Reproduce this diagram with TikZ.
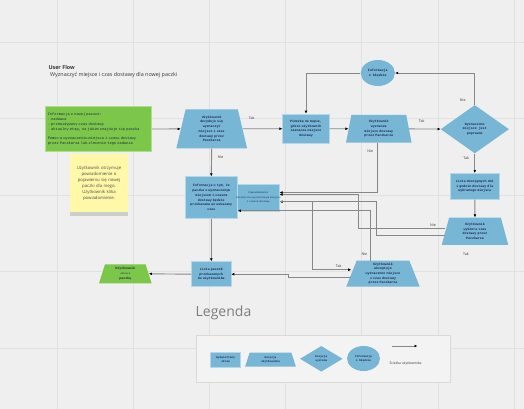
\documentclass[tikz,border=0pt]{standalone}
\usepackage{fontspec}
\setmainfont{Open Sans}
\setsansfont{Open Sans}
\setmonofont{Liberation Mono}
\usepackage{tikz}
\usetikzlibrary{shapes.geometric, arrows.meta, positioning, calc, shadows}
\definecolor{ufbg}{RGB}{239,239,239}
\definecolor{ufgrid}{RGB}{225,225,225}
\definecolor{ufblue}{RGB}{120,182,214}
\definecolor{ufgreen}{RGB}{124,199,74}
\definecolor{ufyellow}{RGB}{255,248,168}
\definecolor{ufpanel}{RGB}{243,243,243}
\definecolor{ufline}{RGB}{135,135,135}
\definecolor{uftext}{RGB}{28,38,76}
\definecolor{ufhead}{RGB}{55,55,55}
\definecolor{ufgrey}{RGB}{125,125,125}
\newcommand{\boxfont}{\fontsize{3.3}{4.7}\selectfont\ttfamily\bfseries}
\newcommand{\labfont}{\fontsize{3.6}{4.4}\selectfont\sffamily}
\tikzset{
  screen/.style   = {rectangle, draw=ufblue!55!white, line width=0.6pt, fill=ufblue,
                     text=uftext, align=center, font=\boxfont, inner sep=1pt},
  userdec/.style  = {trapezium, trapezium stretches=true, fill=ufblue, text=uftext,
                     align=center, font=\boxfont, inner sep=1pt},
  tslope/.style   = {trapezium left angle=#1, trapezium right angle=#1},
  sysdec/.style   = {diamond, fill=ufblue, text=uftext, align=center,
                     font=\boxfont, inner sep=0pt},
  errinfo/.style  = {ellipse, fill=ufblue, text=uftext, align=center,
                     font=\boxfont, inner sep=0pt},
  greenbox/.style = {rectangle, draw=ufgreen!60!white, line width=0.6pt, fill=ufgreen,
                     text=uftext, inner sep=2pt},
  sticky/.style   = {rectangle, fill=ufyellow, text=black!70, align=center,
                     font=\fontsize{4.3}{6}\selectfont\sffamily, inner sep=2pt,
                     drop shadow={shadow xshift=0pt, shadow yshift=-4pt, opacity=0.3}},
  legendbox/.style= {rectangle, fill=ufpanel, draw=black!15, line width=0.6pt,
                     drop shadow={shadow xshift=0.8pt, shadow yshift=-1.5pt, opacity=0.25}},
  flow/.style     = {-{Latex[length=3pt, width=2.8pt, color=black]}, line width=0.9pt, draw=ufline},
  flowlab/.style  = {font=\labfont, text=ufhead, inner sep=0.8pt},
}

\begin{document}
\begin{tikzpicture}[x=1pt, y=-1pt]

% ---------- Canvas ----------
\fill[ufbg] (0,0) rectangle (524,409);
\useasboundingbox (0,0) rectangle (524,409);
\foreach \gx in {57,133.2,209.4,285.6,361.8,438,514.2}
  \draw[ufgrid, line width=0.8pt] (\gx,0) -- (\gx,409);
\foreach \gy in {42,118.5,195,271.5,348}
  \draw[ufgrid, line width=0.8pt] (0,\gy) -- (524,\gy);

% ---------- Heading ----------
\node[anchor=west, inner sep=0pt, text=ufhead,
      font=\fontsize{5.4}{6}\selectfont\sffamily\bfseries] (title) at (48.3,67.7) {User Flow};
\node[anchor=west, inner sep=0pt, text=ufhead,
      font=\fontsize{5.4}{6}\selectfont\sffamily] (subtitle) at (50,75.2)
      {Wyznaczyć miejsce i czas dostawy dla nowej paczki};

% ---------- Entry ----------
\node[greenbox, minimum width=106.7pt, minimum height=45pt, text width=101pt, align=left,
      font=\fontsize{3.65}{5}\selectfont\ttfamily] (info) at (98.3,129.2)
      {Informacja o nowej paczce:\\
       - nadawca\\
       - przewidywany czas dostawy\\
       - aktualny etap, na jakim znajduje się paczka\\[4.4pt]
       Pomoc w wyznaczeniu miejsca i czasu dostawy\\
       przez Paczkarza lub zlecenie tego zadania};
\node[sticky, minimum width=58pt, minimum height=58pt, text width=52pt] (note) at (99,183)
      {Użytkownik otrzymuje\\powiadomienie o\\pojawieniu się nowej\\paczki dla niego.\\Użytkownik klika\\powiadomienie.};

% ---------- Top row ----------
\node[userdec, tslope=75, minimum width=71pt, minimum height=39pt, text width=40pt] (decide) at (211.7,128.8)
      {Użytkownik\\decyduje się\\wyznaczyć\\miejsce i czas\\dostawy przez\\Paczkarza};
\node[screen, minimum width=46.6pt, minimum height=29.3pt, text width=42pt] (pin) at (306,128.7)
      {Pinezka na mapie,\\gdzie użytkownik\\zaznacza miejsce\\dostawy};
\node[userdec, tslope=78, minimum width=65.7pt, minimum height=27.7pt, text width=40pt] (pick) at (378.8,128.8)
      {Użytkownik\\wyznacza\\miejsce dostawy\\przez Paczkarza};
\node[sysdec, minimum width=68.3pt, minimum height=48.3pt] (valid) at (474.8,129.2)
      {Wyznaczone\\miejsce jest\\poprawne};
\node[errinfo, minimum width=34.3pt, minimum height=26pt] (err) at (377.8,73)
      {Informacja\\o błędzie};

% ---------- Right column ----------
\node[screen, minimum width=48.3pt, minimum height=26pt, text width=45pt] (slots) at (474.8,186.3)
      {Lista dostępnych dni\\i godzin dostawy dla\\wybranego miejsca};
\node[userdec, tslope=72, minimum width=66.6pt, minimum height=27.3pt, text width=40pt] (choose) at (475,231.3)
      {Użytkownik\\wybiera czas\\dostawy przez\\Paczkarza};
\node[flowlab] (chooselab) at ([xshift=-9pt, yshift=-9pt]choose.south) {Tak};

% ---------- Middle ----------
\node[screen, minimum width=52.7pt, minimum height=41.7pt, text width=48pt] (confirm) at (211.3,197.5)
      {Informacja o tym, że\\paczka z wyznaczonym\\miejscem i czasem\\dostawy będzie\\przekazana we wskazany\\czas};
\node[screen, minimum width=42pt, minimum height=27pt, text width=40pt,
      font=\fontsize{2.5}{4.2}\selectfont\ttfamily] (notify) at (258.3,197.5)
      {Powiadomienie\\\makebox[\linewidth][c]{Paczkarza o wyznaczonym miejscu}\\i czasie dostawy};

% ---------- Bottom row ----------
\node[userdec, tslope=70, minimum width=74pt, minimum height=26pt, text width=42pt] (accept) at (383,273.7)
      {Użytkownik\\akceptuje\\wyznaczone miejsce\\i czas dostawy\\przez Paczkarza};
\node[screen, minimum width=39.3pt, minimum height=25pt, text width=36pt] (parcels) at (211.3,274.2)
      {Lista paczek\\przekazanych\\do użytkownika};
\node[userdec, tslope=72, fill=ufgreen, minimum width=52.7pt, minimum height=19pt, text width=30pt] (pickup) at (125.3,273.8)
      {Użytkownik\\{\fontsize{2.4}{3}\selectfont\mdseries odbiera}\\paczkę};

% ---------- Edges: top row ----------
\draw[flow] (info) -- (decide);
\draw[flow] (decide) -- node[flowlab, pos=0.23, above=8pt]{Tak} (pin);
\draw[flow] (pin) -- (pick);
\draw[flow] (pick) -- node[flowlab, pos=0.4, above=5pt]{Tak} (valid);
\draw[flow] (valid.north) |- node[flowlab, pos=0.073, left=8pt]{Nie} (err.east);
\draw[flow] (err.west) -| (pin.north);
\draw[flow] (valid.south) -- node[flowlab, pos=0.25, left=4.5pt]{Tak} (slots.north);
\draw[flow] (slots) -- (choose);

% ---------- Edges: middle ----------
\draw[flow] (decide.south) -- node[flowlab, pos=0.3, right=5pt]{Nie} (confirm.north);
\draw[flow] ([xshift=-1pt]pick.south) |- node[flowlab, pos=0.083, left=3.5pt]{Nie} ([yshift=5pt]notify.east);
\draw[flow] ([yshift=3pt]choose.west) -- ++(-87,0) node[flowlab, pos=0.14, above=1pt]{Nie}
            |- ([yshift=3pt]notify.east);
\draw[flow] ([yshift=-3.8pt]choose.west) -- ++(-68.5,0) |- ([yshift=-4.2pt]notify.east);
\draw[flow] ([yshift=-4.2pt]notify.east) -- ++(32.4,0)
            |- node[flowlab, pos=0.84, above=1pt]{Tak} ([yshift=4pt]accept.west);
\draw[flow] ([xshift=-13pt]accept.north) |- node[flowlab, pos=0.067, left=1.5pt]{Nie} ([yshift=-13.2pt]confirm.east);

% ---------- Edges: bottom row ----------
\draw[flow] (confirm.south) -- (parcels.north);
\draw[flow] ([yshift=-4pt]accept.west) -- ++(-63,0) |- (parcels.east);
\draw[flow] (parcels.west) -- (pickup.east);

% ---------- Legend ----------
\node[anchor=west, inner sep=0pt, text=ufgrey,
      font=\fontsize{14}{16}\selectfont\sffamily] (legendtitle) at (195.5,313) {Legenda};
\node[legendbox, minimum width=254pt, minimum height=47pt] (legend) at (323,358.3) {};
\node[screen, minimum width=30pt, minimum height=15pt, text width=28pt,
      font=\fontsize{2.8}{4}\selectfont\ttfamily\bfseries] (lgscreen) at (225.7,359.8) {Wyświetlany\\ekran};
\node[userdec, tslope=68, minimum width=51pt, minimum height=14pt, text width=30pt,
      font=\fontsize{2.8}{4}\selectfont\ttfamily\bfseries] (lgdec) at (270.5,359.7) {Decyzja\\użytkownika};
\node[sysdec, minimum width=42.7pt, minimum height=25.7pt,
      font=\fontsize{2.8}{4}\selectfont\ttfamily\bfseries] (lgsys) at (321.3,358.8) {Decyzja\\systemu};
\node[errinfo, minimum width=33pt, minimum height=25pt,
      font=\fontsize{2.8}{4}\selectfont\ttfamily\bfseries] (lgerr) at (363.5,358.5) {Informacja\\o błędzie};
\coordinate (lgfrom) at (391.5,346);
\coordinate (lgto) at (417.5,346);
\draw[flow] (lgfrom) -- (lgto);
\node[flowlab, font=\fontsize{3.4}{4}\selectfont\sffamily] (lgtext) at (405.5,363.3) {Ścieżka użytkownika};

\end{tikzpicture}
\end{document}
